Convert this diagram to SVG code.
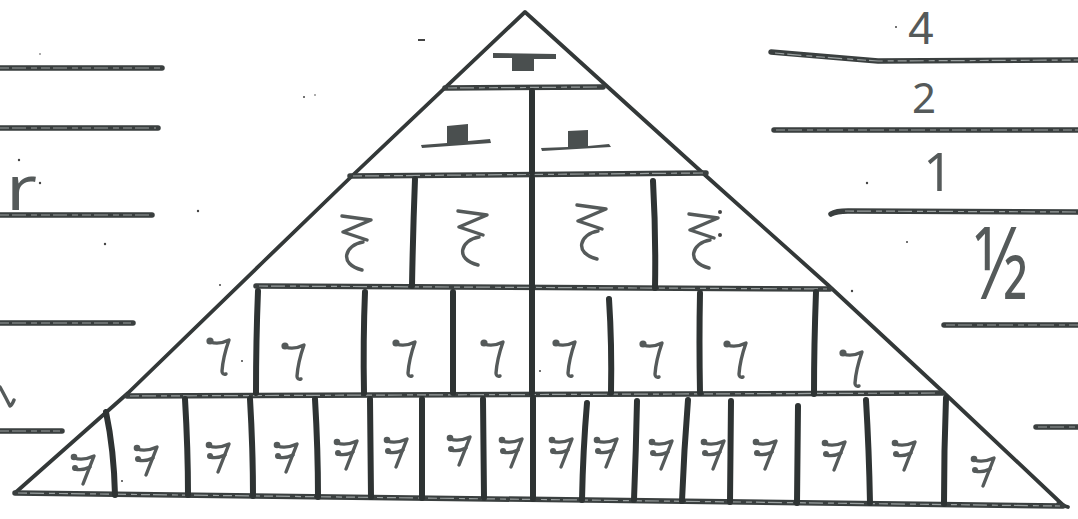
<svg xmlns="http://www.w3.org/2000/svg" width="1078" height="519" viewBox="0 0 1078 519">
<style>
.edge{fill:none;stroke:#333838;stroke-width:3.8;stroke-linecap:round;stroke-linejoin:round}
.rule{fill:none;stroke:#3a3f3f;stroke-width:5.5;stroke-linecap:round}
.tex{fill:none;stroke:#9aa0a0;stroke-width:1.2;stroke-dasharray:9 3 14 5 6 4}
.wall{fill:none;stroke:#2e3333;stroke-width:6;stroke-linecap:round}
.ink{fill:none;stroke:#555a5a;stroke-width:3.4;stroke-linecap:round;stroke-linejoin:round}
.inkf{fill:#555a5a}
.rest{fill:#4a4f4f}
.lbl{font-family:"Noto Sans","Liberation Sans",sans-serif;font-weight:400;fill:#555a5a}
.speck{fill:#444}
</style>
<defs>
<g id="r16">
<circle class="inkf" cx="4" cy="5" r="3.3"/>
<path class="ink" d="M4,6 Q13,9 24,4 L13,32"/>
<circle class="inkf" cx="5" cy="16" r="3"/>
<path class="ink" d="M5,17 Q12,19 20,15"/>
</g>
<g id="r8">
<circle class="inkf" cx="4" cy="6" r="3.6"/>
<path class="ink" d="M4,7 Q13,10 23,5 Q17,22 16,36 Q16,40 20,39"/>
</g>
<g id="r4">
<path class="ink" d="M2,4 L31,8 L3,20 L27,28 M23,30 C5,33 -2,52 22,58"/>
</g>
</defs>

<rect width="1078" height="519" fill="#ffffff"/>

<g id="left-lines">
<path class="rule" d="M0,68 L162,68"/><path class="tex" d="M0,68 L160,68"/>
<path class="rule" d="M0,128 L158,128"/><path class="tex" d="M0,128 L156,128"/>
<path class="rule" d="M0,215 L152,215"/><path class="tex" d="M0,215 L150,215"/>
<path class="rule" d="M0,323 L133,323"/><path class="tex" d="M0,323 L131,323"/>
<path class="rule" d="M0,431 L62,431"/><path class="tex" d="M0,431 L60,431"/>
<text class="lbl" x="6" y="210" font-size="62" textLength="31" lengthAdjust="spacingAndGlyphs" font-weight="300">r</text>
<path class="ink" d="M0,387 Q6,398 10,406 Q12,405 14,400"/>
</g>

<g id="right-lines">
<path class="rule" d="M771,52 Q830,57 878,61 L1078,60"/><path class="tex" d="M775,53 Q830,58 878,61 L1078,60"/>
<path class="rule" d="M774,130 L1078,130"/><path class="tex" d="M776,130 L1078,130"/>
<path class="rule" d="M831,214 Q836,211 848,211 L1078,212"/><path class="tex" d="M845,211 L1078,212"/>
<path class="rule" d="M944,325 L1078,325"/><path class="tex" d="M946,325 L1078,325"/>
<path class="rule" d="M1036,427 L1078,427"/><path class="tex" d="M1038,427 L1078,427"/>
<text class="lbl" x="921" y="44" font-size="47" text-anchor="middle" style="font-family:'Liberation Sans',sans-serif">4</text>
<text class="lbl" x="924" y="113" font-size="42" text-anchor="middle">2</text>
<text class="lbl" x="938" y="191" font-size="52" text-anchor="middle">1</text>
<text class="lbl" x="974" y="299" font-size="100" textLength="54" lengthAdjust="spacingAndGlyphs">½</text>
</g>

<g id="pyramid">
<path class="edge" d="M15,493 L128,393 L263,262 L353,175 L525,12 L705,175 L828,285 L941,390 L1064,506"/>
<path class="edge" d="M1058,504 L1068,507"/>
</g>

<g id="row1">
<path class="rule" d="M445,88 L603,87"/><path class="tex" d="M448,88 L600,87"/>
<path class="rest" d="M493,53 L556,54 L556,59 L534,59 L534,71 L512,71 L512,58 L493,58 Z"/>
</g>

<g id="row2">
<path class="rule" d="M350,176 L706,173"/><path class="tex" d="M353,176 L703,173"/>
<path class="wall" d="M532,91 L532,173"/>
<path class="rest" d="M447,126 L468,124 L468,141 L490,139 L491,143 L422,148 L421,145 L447,143 Z"/>
<path class="rest" d="M568,131 L588,130 L588,146 L609,144 L611,147 L542,151 L541,148 L568,147 Z"/>
</g>

<g id="row3">
<path class="rule" d="M256,286 L830,289"/><path class="tex" d="M259,286 L827,289"/>
<path class="wall" d="M415,179 Q413,230 412,286"/>
<path class="wall" d="M532,178 L532,287"/>
<path class="wall" d="M653,181 Q656,235 655,288"/>
<use href="#r4" x="340" y="212"/>
<use href="#r4" x="456" y="207"/>
<use href="#r4" x="575" y="201"/>
<use href="#r4" x="687" y="210"/>
</g>

<g id="row4">
<path class="rule" d="M127,396 L943,393"/><path class="tex" d="M130,396 L940,393"/>
<path class="wall" d="M258,291 Q256,340 256,393"/>
<path class="wall" d="M365,292 Q363,340 364,393"/>
<path class="wall" d="M453,292 L453,393"/>
<path class="wall" d="M532,290 L532,393"/>
<path class="wall" d="M609,299 Q612,345 611,393"/>
<path class="wall" d="M700,293 Q699,340 700,393"/>
<path class="wall" d="M816,292 Q814,345 814,394"/>
<use href="#r8" x="206" y="335"/>
<use href="#r8" x="281" y="340"/>
<use href="#r8" x="392" y="337"/>
<use href="#r8" x="480" y="337"/>
<use href="#r8" x="552" y="337"/>
<use href="#r8" x="639" y="338"/>
<use href="#r8" x="723" y="338"/>
<use href="#r8" x="839" y="347"/>
</g>

<g id="row5">
<path class="rule" d="M15,493 L1063,506"/><path class="tex" d="M18,493 L1060,506"/>
<path class="wall" d="M106,412 Q114,450 115,495"/>
<path class="wall" d="M185,399 Q188,450 188,495"/>
<path class="wall" d="M250,399 Q253,450 253,496"/>
<path class="wall" d="M315,399 Q318,450 318,497"/>
<path class="wall" d="M370,399 L371,497"/>
<path class="wall" d="M422,399 L422,498"/>
<path class="wall" d="M483,399 L484,498"/>
<path class="wall" d="M533,398 L533,499"/>
<path class="wall" d="M587,403 Q583,450 582,500"/>
<path class="wall" d="M637,401 Q636,450 634,500"/>
<path class="wall" d="M688,400 Q684,450 682,501"/>
<path class="wall" d="M731,401 L730,502"/>
<path class="wall" d="M798,406 L797,503"/>
<path class="wall" d="M866,400 Q869,450 870,503"/>
<path class="wall" d="M946,398 Q944,450 944,504"/>
<use href="#r16" x="70" y="452"/>
<use href="#r16" x="133" y="443"/>
<use href="#r16" x="205" y="440"/>
<use href="#r16" x="273" y="440"/>
<use href="#r16" x="333" y="437"/>
<use href="#r16" x="383" y="435"/>
<use href="#r16" x="446" y="433"/>
<use href="#r16" x="498" y="435"/>
<use href="#r16" x="548" y="435"/>
<use href="#r16" x="593" y="435"/>
<use href="#r16" x="648" y="437"/>
<use href="#r16" x="700" y="437"/>
<use href="#r16" x="752" y="437"/>
<use href="#r16" x="821" y="438"/>
<use href="#r16" x="891" y="438"/>
<use href="#r16" x="970" y="454"/>
</g>

<g id="specks">
<rect class="speck" x="418" y="39" width="7" height="2"/>
<circle class="speck" cx="304" cy="97" r="1"/>
<circle class="speck" cx="315" cy="95" r="0.8"/>
<circle class="speck" cx="198" cy="211" r="1.2"/>
<circle class="speck" cx="40" cy="54" r="0.8"/>
<circle class="speck" cx="19" cy="160" r="1.2"/>
<circle class="speck" cx="40" cy="183" r="1.2"/>
<circle class="speck" cx="105" cy="244" r="1.2"/>
<circle class="speck" cx="896" cy="27" r="1"/>
<circle class="speck" cx="867" cy="183" r="1.2"/>
<circle class="speck" cx="907" cy="242" r="1"/>
<circle class="speck" cx="720" cy="212" r="2"/>
<circle class="speck" cx="720" cy="235" r="2"/>
<circle class="speck" cx="220" cy="285" r="1"/>
<circle class="speck" cx="242" cy="361" r="1"/>
<circle class="speck" cx="122" cy="481" r="1"/>
<circle class="speck" cx="852" cy="291" r="1.2"/>
<circle class="speck" cx="540" cy="371" r="1"/>
</g>
</svg>
